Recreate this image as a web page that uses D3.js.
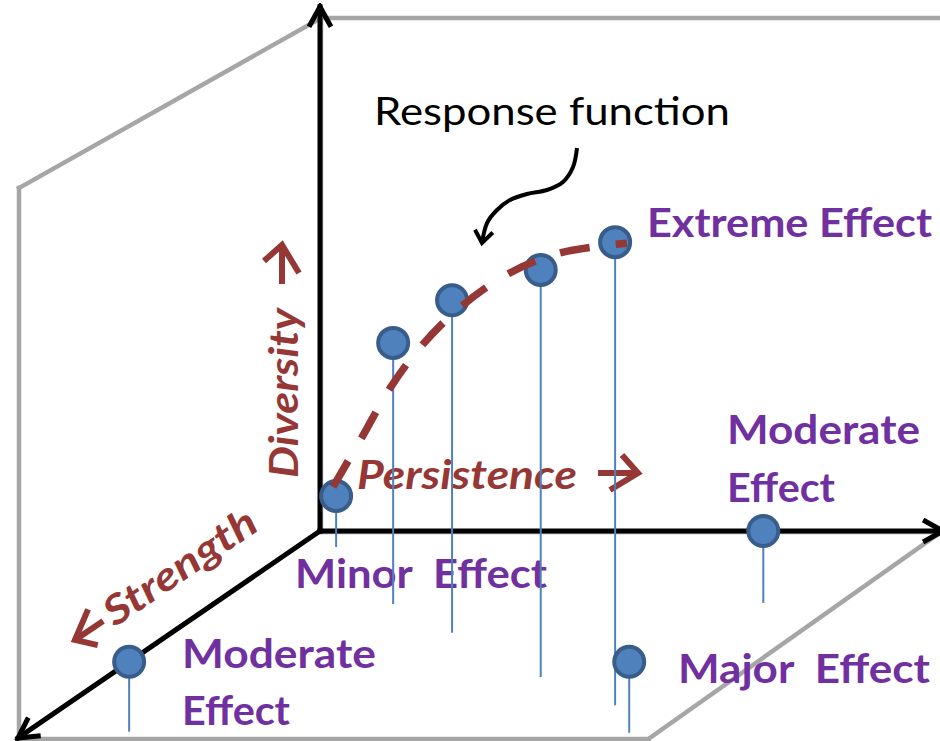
<!DOCTYPE html>
<html><head><meta charset="utf-8">
<script src="https://cdn.jsdelivr.net/npm/d3@7/dist/d3.min.js"></script>
<style>body{margin:0;background:#fff}svg{display:block}text{white-space:pre}</style>
</head><body><svg id="c" width="940" height="741"></svg>
<script>
// ---------------- data ----------------
const axisWords = ["Persistence", "Diversity", "Strength"];
const axisArrowDir = [1, 1, -1];
const annotationText = "Response function";
const effectLabels = ["Minor  Effect", "Extreme Effect", "Moderate", "Effect", "Moderate", "Effect", "Major  Effect"];
// observed points (persistence, diversity, strength) and the diversity level where each drop line ends
const pointPersistence = [0.26, 1.18, 2.13, 3.56, 4.76, 7.15, 0.00, 7.99];
const pointDiversity   = [0.68, 3.66, 4.49, 5.08, 5.62, 0.00, 0.00, 0.00];
const pointStrength    = [0.00, 0.00, 0.00, 0.00, 0.00, 0.00, 6.32, 6.32];
const stemEnd          = [-0.31, -1.42, -1.98, -2.84, -3.39, -1.40, -1.30, -1.32];
// response function (dashed curve)
const curvePersistence = [0.21, 0.68, 1.13, 1.65, 2.31, 3.06, 3.87, 4.95];
const curveDiversity   = [0.86, 1.83, 2.78, 3.62, 4.40, 5.02, 5.41, 5.60];
// pointer from the annotation to the curve
const pointerPersistence = [4.145, 4.081, 3.919, 3.661, 3.339, 3.065, 2.855, 2.694, 2.613];
const pointerDiversity   = [7.451, 7.082, 6.790, 6.634, 6.556, 6.440, 6.245, 5.992, 5.603];
// box extents
const axisMax = [10, 10, 10];

// ---------------- scales & projection ----------------
const svg = d3.select("#c");
const x = d3.scaleLinear().domain([0, 10]).range([320, 940]);
const y = d3.scaleLinear().domain([0, 10]).range([531, 17]);
const z = d3.scaleLinear().domain([0, 10]).range([0, 1]);
const depthDX = -302, depthDY = 207;
function proj(P, D, S) {
  const t = z(S);
  return [x(0) + (x(P) - x(0)) * (1 + 0.015 * t) + depthDX * t,
          y(0) + (y(D) - y(0)) * (1 + 0.072 * t) + depthDY * t];
}

const purple = "#7030a0", brown = "#953735", blueFill = "#4f81bd", blueStroke = "#385d8a";
const font = "Lato, 'Open Sans', sans-serif";

// markers
const defs = svg.append("defs");
defs.append("marker").attr("id", "ah").attr("markerUnits", "userSpaceOnUse")
  .attr("viewBox", "-24 -14 28 28").attr("refX", 0).attr("refY", 0)
  .attr("markerWidth", 28).attr("markerHeight", 28).attr("orient", "auto")
  .append("path").attr("d", "M-20,-11L0,0L-20,11").attr("fill", "none")
  .attr("stroke", "#000").attr("stroke-width", 5).attr("stroke-linejoin", "miter");
defs.append("marker").attr("id", "ah2").attr("markerUnits", "userSpaceOnUse")
  .attr("viewBox", "-16 -12 20 24").attr("refX", 0).attr("refY", 0)
  .attr("markerWidth", 20).attr("markerHeight", 24).attr("orient", "auto")
  .append("path").attr("d", "M-12,-9L0,0L-12,9").attr("fill", "none")
  .attr("stroke", "#000").attr("stroke-width", 4);

// ---------------- gray box ----------------
const [Pm, Dm, Sm] = axisMax;
const boxEdges = [
  [[0, Dm, 0], [Pm + 1, Dm, 0]],
  [[0, 0, 0], [Pm + 1, 0, 0]],
  [[0, 0, 0], [0, Dm, 0]],
  [[0, Dm, 0], [0, Dm, Sm]],
  [[0, Dm, Sm], [0, -0.2, Sm]],
  [[0, 0, Sm], [Pm, 0, Sm]],
  [[Pm, 0, Sm], [Pm, 0, 0]]
];
svg.append("g").selectAll("line").data(boxEdges).join("line")
  .attr("x1", d => proj(...d[0])[0] + 1).attr("y1", d => proj(...d[0])[1] + 1)
  .attr("x2", d => proj(...d[1])[0] + 1).attr("y2", d => proj(...d[1])[1] + 1)
  .attr("stroke", "#a6a6a6").attr("stroke-width", 4.5).attr("stroke-linecap", "square");

// ---------------- black axes ----------------
const axes = [
  [[0, 0, 0], [0, 10.2, 0]],
  [[0, 0, 0], [Pm + 0.05, 0, 0]],
  [[0, 0, 0], [0, 0, 10]]
];
svg.append("g").selectAll("line").data(axes).join("line")
  .attr("x1", d => proj(...d[0])[0]).attr("y1", d => proj(...d[0])[1])
  .attr("x2", d => proj(...d[1])[0]).attr("y2", d => proj(...d[1])[1])
  .attr("stroke", "#000").attr("stroke-width", 5).attr("stroke-linecap", "square")
  .attr("marker-end", "url(#ah)");

// ---------------- axis titles ----------------
const tg = svg.append("g").attr("font-family", font).attr("font-weight", "bold")
  .attr("font-style", "italic").attr("fill", brown).attr("font-size", 40);
// ax0: arrow tail, ax1: arrow tip (local coordinates along the title baseline)
const titleLayout = [
  {tr: "translate(357,489)", wx: 0, wl: 220, a0: 241, a1: 281, ay: -16},
  {tr: "translate(298,478) rotate(-90)", wx: 0, wl: 170, a0: 194, a1: 233, ay: -16},
  {tr: "translate(80,651) rotate(-34)", wx: 42, wl: 176, a0: 36, a1: 2, ay: -12}
];
axisWords.forEach((w, i) => {
  const L = titleLayout[i];
  const g = tg.append("g").attr("transform", L.tr);
  g.append("text").attr("x", L.wx).attr("y", 0).attr("textLength", L.wl)
    .attr("lengthAdjust", "spacingAndGlyphs").text(w);
  const dir = axisArrowDir[i];
  const p = d3.path();
  p.moveTo(L.a0, L.ay); p.lineTo(L.a1, L.ay);
  p.moveTo(L.a1 - dir * (dir > 0 ? 16 : 28), L.ay - 18);
  p.lineTo(L.a1, L.ay);
  p.lineTo(L.a1 - dir * (dir > 0 ? 28 : 16), L.ay + 17);
  g.append("path").attr("d", p.toString()).attr("fill", "none").attr("stroke", brown)
    .attr("stroke-width", 6).attr("stroke-linejoin", "miter").attr("stroke-miterlimit", 6);
});

// ---------------- effect labels ----------------
const labelPos = [[295, 588, 252], [647, 237, 285], [182, 668, 194], [182, 725, 108],
                  [727, 444, 193], [727, 502, 108], [678, 683, 252]];
svg.append("g").attr("font-family", font).attr("font-weight", "bold").attr("fill", purple)
  .attr("font-size", 40)
  .selectAll("text").data(effectLabels).join("text")
  .attr("x", (d, i) => labelPos[i][0]).attr("y", (d, i) => labelPos[i][1])
  .attr("textLength", (d, i) => labelPos[i][2]).attr("lengthAdjust", "spacingAndGlyphs")
  .text(d => d);

// ---------------- points ----------------
const pts = pointPersistence.map((p, i) => ({
  P: p, D: pointDiversity[i], S: pointStrength[i], E: stemEnd[i]
}));
svg.append("g").selectAll("line").data(pts).join("line")
  .attr("x1", d => proj(d.P, d.D, d.S)[0]).attr("y1", d => proj(d.P, d.D, d.S)[1])
  .attr("x2", d => proj(d.P, d.E, d.S)[0]).attr("y2", d => proj(d.P, d.E, d.S)[1])
  .attr("stroke", blueFill).attr("stroke-width", 2);
svg.append("g").selectAll("circle").data(pts).join("circle")
  .attr("cx", d => proj(d.P, d.D, d.S)[0]).attr("cy", d => proj(d.P, d.D, d.S)[1])
  .attr("r", 15).attr("fill", blueFill).attr("stroke", blueStroke).attr("stroke-width", 4);

// ---------------- response curve ----------------
const curve = curvePersistence.map((p, i) => proj(p, curveDiversity[i], 0));
svg.append("path").attr("d", d3.line().curve(d3.curveCatmullRom)(curve))
  .attr("fill", "none").attr("stroke", brown).attr("stroke-width", 7.5)
  .attr("stroke-dasharray", "30,26");

// ---------------- annotation ----------------
const pointer = pointerPersistence.map((p, i) => proj(p, pointerDiversity[i], 0));
svg.append("path").attr("d", d3.line().curve(d3.curveCatmullRom)(pointer))
  .attr("fill", "none").attr("stroke", "#000").attr("stroke-width", 4)
  .attr("marker-end", "url(#ah2)");
svg.append("text").attr("x", 374).attr("y", 125).attr("font-family", font)
  .attr("font-size", 39).attr("fill", "#000").attr("textLength", 356)
  .attr("lengthAdjust", "spacingAndGlyphs").text(annotationText);
</script></body></html>
